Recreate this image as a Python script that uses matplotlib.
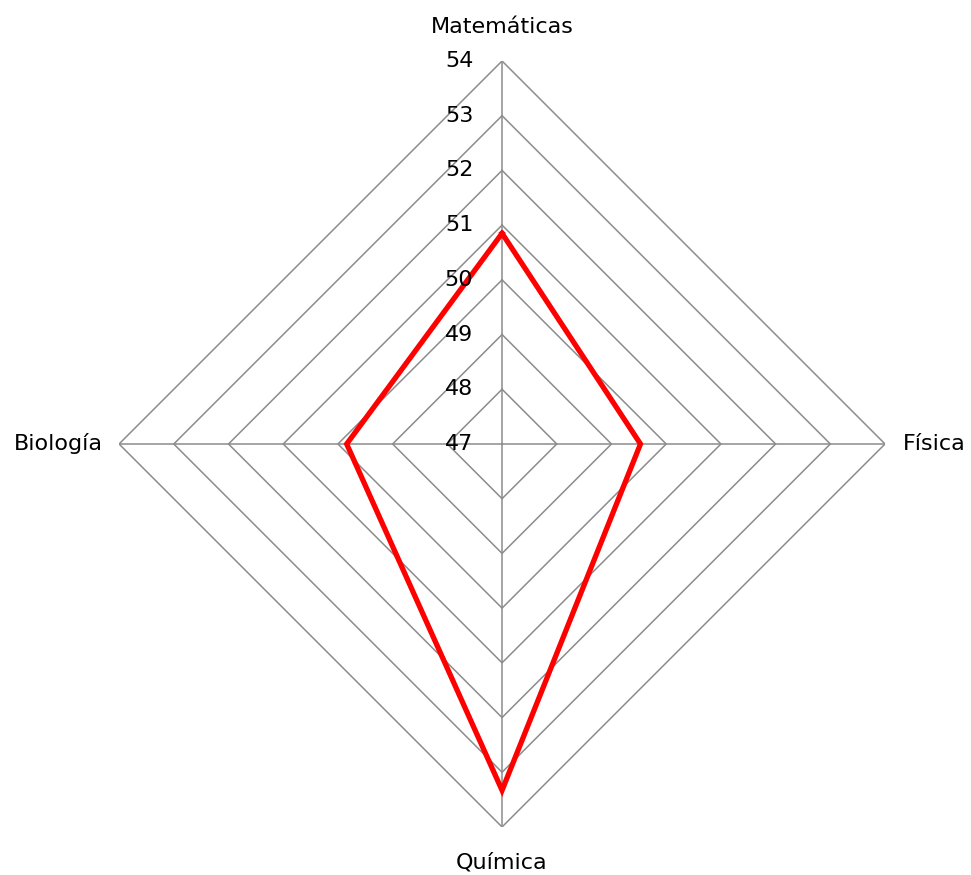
import numpy as np
import matplotlib
matplotlib.use('Agg')
import matplotlib.pyplot as plt
import matplotlib.transforms as mtransforms

# data
subjects = ['Matemáticas', 'Física', 'Química', 'Biología']
scores = [50.85, 49.53, 53.33, 49.84]
levels = [47, 48, 49, 50, 51, 52, 53, 54]
rmin, rmax = 47, 54

angles = np.linspace(0, 2 * np.pi, len(subjects), endpoint=False)

fig = plt.figure(figsize=(9.71, 8.75), dpi=100)
ax = fig.add_axes([0.1226, 0.0549, 0.7889, 0.8754], projection='polar')
ax.set_theta_zero_location('N')
ax.set_theta_direction(-1)
ax.set_ylim(rmin, rmax)
ax.grid(False)
ax.spines['polar'].set_visible(False)
ax.set_xticks([])
ax.set_yticks([])
ax.patch.set_visible(False)

grid_col = '#8c8c8c'
closed = np.append(angles, angles[0])

# polygon gridlines
for lv in levels[1:]:
    ax.plot(closed, [lv] * len(closed), color=grid_col, lw=1.1, zorder=1)

# spokes
for a in angles:
    ax.plot([a, a], [rmin, rmax], color=grid_col, lw=1.1, zorder=1)

# data series
vals = np.append(scores, scores[0])
ax.plot(closed, vals, color='#ff0000', lw=3.8, zorder=3, solid_joinstyle='miter')

# radial tick labels, left of the top spoke
off = mtransforms.offset_copy(ax.transData, fig=fig, x=-43, y=0, units='dots')
for lv in levels:
    ax.text(0, lv, str(lv), transform=off, ha='center', va='center',
            fontsize=16, color='black', zorder=4)

# category labels
lab_off = [(0, 34, 'center', 'center'), (18, 0, 'left', 'center'),
           (0, -36, 'center', 'center'), (-16, 0, 'right', 'center')]
for a, name, (dx, dy, ha, va) in zip(angles, subjects, lab_off):
    t = mtransforms.offset_copy(ax.transData, fig=fig, x=dx, y=dy, units='dots')
    ax.text(a, rmax, name, transform=t, ha=ha, va=va, fontsize=16)

fig.savefig('out.png', dpi=100)
